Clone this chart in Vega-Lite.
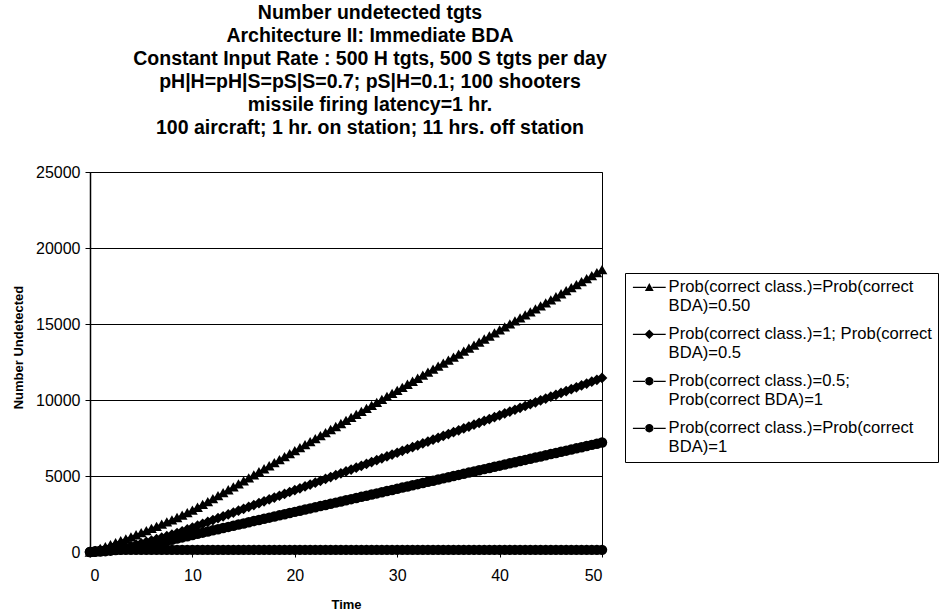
{
  "$schema": "https://vega.github.io/schema/vega-lite/v6.json",
  "autosize": {"type": "none"},
  "padding": {"left": 90, "top": 172, "right": 344, "bottom": 61},
  "width": 512,
  "height": 380,
  "background": "white",
  "config": {
    "font": "Liberation Sans",
    "view": {"stroke": "black", "strokeWidth": 1},
    "axis": {"labelColor": "black", "titleColor": "black", "domainColor": "black", "tickColor": "black"}
  },
  "title": {
    "text": ["Number undetected tgts", "Architecture II: Immediate BDA", "Constant Input Rate : 500 H tgts, 500 S tgts per day", "pH|H=pH|S=pS|S=0.7; pS|H=0.1; 100 shooters", "missile firing latency=1 hr.", "100 aircraft; 1 hr. on station; 11 hrs. off station"],
    "fontSize": 19.5,
    "fontWeight": "bold",
    "lineHeight": 23,
    "color": "black",
    "anchor": "middle",
    "dx": 24,
    "offset": 26
  },
  "data": {
    "values": [
      {"t": 0, "a": 0, "b": 0, "c": 0, "d": 0},
      {"t": 0.5, "a": 110, "b": 25, "c": 10, "d": 50},
      {"t": 1, "a": 230, "b": 60, "c": 30, "d": 90},
      {"t": 1.5, "a": 355, "b": 100, "c": 55, "d": 115},
      {"t": 2, "a": 480, "b": 150, "c": 90, "d": 130},
      {"t": 2.5, "a": 610, "b": 210, "c": 130, "d": 140},
      {"t": 3, "a": 740, "b": 270, "c": 170, "d": 140},
      {"t": 3.5, "a": 870, "b": 340, "c": 215, "d": 140},
      {"t": 4, "a": 1000, "b": 410, "c": 260, "d": 140},
      {"t": 4.5, "a": 1135, "b": 490, "c": 310, "d": 140},
      {"t": 5, "a": 1270, "b": 570, "c": 360, "d": 140},
      {"t": 5.5, "a": 1410, "b": 660, "c": 420, "d": 140},
      {"t": 6, "a": 1550, "b": 750, "c": 490, "d": 140},
      {"t": 6.5, "a": 1690, "b": 845, "c": 565, "d": 140},
      {"t": 7, "a": 1830, "b": 940, "c": 640, "d": 140},
      {"t": 7.5, "a": 1975, "b": 1040, "c": 720, "d": 140},
      {"t": 8, "a": 2120, "b": 1140, "c": 800, "d": 140},
      {"t": 8.5, "a": 2270, "b": 1250, "c": 880, "d": 140},
      {"t": 9, "a": 2420, "b": 1360, "c": 960, "d": 140},
      {"t": 9.5, "a": 2590, "b": 1487, "c": 1040, "d": 140},
      {"t": 10, "a": 2760, "b": 1610, "c": 1120, "d": 140},
      {"t": 10.5, "a": 2945, "b": 1733, "c": 1196, "d": 140},
      {"t": 11, "a": 3130, "b": 1856, "c": 1272, "d": 140},
      {"t": 11.5, "a": 3320, "b": 1979, "c": 1348, "d": 140},
      {"t": 12, "a": 3510, "b": 2102, "c": 1424, "d": 140},
      {"t": 12.5, "a": 3705, "b": 2225, "c": 1500, "d": 140},
      {"t": 13, "a": 3900, "b": 2348, "c": 1576, "d": 140},
      {"t": 13.5, "a": 4095, "b": 2471, "c": 1652, "d": 140},
      {"t": 14, "a": 4290, "b": 2594, "c": 1728, "d": 140},
      {"t": 14.5, "a": 4485, "b": 2717, "c": 1804, "d": 140},
      {"t": 15, "a": 4680, "b": 2840, "c": 1880, "d": 140},
      {"t": 15.5, "a": 4880, "b": 2963, "c": 1956, "d": 140},
      {"t": 16, "a": 5080, "b": 3086, "c": 2032, "d": 140},
      {"t": 16.5, "a": 5280, "b": 3209, "c": 2108, "d": 140},
      {"t": 17, "a": 5477, "b": 3332, "c": 2184, "d": 140},
      {"t": 17.5, "a": 5675, "b": 3455, "c": 2260, "d": 140},
      {"t": 18, "a": 5874, "b": 3578, "c": 2336, "d": 140},
      {"t": 18.5, "a": 6072, "b": 3701, "c": 2412, "d": 140},
      {"t": 19, "a": 6271, "b": 3824, "c": 2488, "d": 140},
      {"t": 19.5, "a": 6470, "b": 3947, "c": 2564, "d": 140},
      {"t": 20, "a": 6668, "b": 4070, "c": 2640, "d": 140},
      {"t": 20.5, "a": 6867, "b": 4193, "c": 2716, "d": 140},
      {"t": 21, "a": 7065, "b": 4316, "c": 2792, "d": 140},
      {"t": 21.5, "a": 7264, "b": 4439, "c": 2868, "d": 140},
      {"t": 22, "a": 7462, "b": 4562, "c": 2944, "d": 140},
      {"t": 22.5, "a": 7661, "b": 4685, "c": 3020, "d": 140},
      {"t": 23, "a": 7859, "b": 4808, "c": 3096, "d": 140},
      {"t": 23.5, "a": 8058, "b": 4931, "c": 3172, "d": 140},
      {"t": 24, "a": 8256, "b": 5054, "c": 3248, "d": 140},
      {"t": 24.5, "a": 8455, "b": 5177, "c": 3324, "d": 140},
      {"t": 25, "a": 8653, "b": 5300, "c": 3400, "d": 140},
      {"t": 25.5, "a": 8852, "b": 5423, "c": 3476, "d": 140},
      {"t": 26, "a": 9050, "b": 5546, "c": 3552, "d": 140},
      {"t": 26.5, "a": 9249, "b": 5669, "c": 3628, "d": 140},
      {"t": 27, "a": 9447, "b": 5792, "c": 3704, "d": 140},
      {"t": 27.5, "a": 9646, "b": 5915, "c": 3780, "d": 140},
      {"t": 28, "a": 9844, "b": 6038, "c": 3856, "d": 140},
      {"t": 28.5, "a": 10043, "b": 6161, "c": 3932, "d": 140},
      {"t": 29, "a": 10241, "b": 6284, "c": 4008, "d": 140},
      {"t": 29.5, "a": 10440, "b": 6407, "c": 4084, "d": 140},
      {"t": 30, "a": 10638, "b": 6530, "c": 4160, "d": 140},
      {"t": 30.5, "a": 10837, "b": 6653, "c": 4236, "d": 140},
      {"t": 31, "a": 11035, "b": 6776, "c": 4312, "d": 140},
      {"t": 31.5, "a": 11234, "b": 6899, "c": 4388, "d": 140},
      {"t": 32, "a": 11432, "b": 7022, "c": 4464, "d": 140},
      {"t": 32.5, "a": 11631, "b": 7145, "c": 4540, "d": 140},
      {"t": 33, "a": 11829, "b": 7268, "c": 4616, "d": 140},
      {"t": 33.5, "a": 12028, "b": 7391, "c": 4692, "d": 140},
      {"t": 34, "a": 12226, "b": 7514, "c": 4768, "d": 140},
      {"t": 34.5, "a": 12425, "b": 7637, "c": 4844, "d": 140},
      {"t": 35, "a": 12623, "b": 7760, "c": 4920, "d": 140},
      {"t": 35.5, "a": 12822, "b": 7883, "c": 4996, "d": 140},
      {"t": 36, "a": 13020, "b": 8006, "c": 5072, "d": 140},
      {"t": 36.5, "a": 13219, "b": 8129, "c": 5148, "d": 140},
      {"t": 37, "a": 13417, "b": 8252, "c": 5224, "d": 140},
      {"t": 37.5, "a": 13616, "b": 8375, "c": 5300, "d": 140},
      {"t": 38, "a": 13814, "b": 8498, "c": 5376, "d": 140},
      {"t": 38.5, "a": 14013, "b": 8621, "c": 5452, "d": 140},
      {"t": 39, "a": 14211, "b": 8744, "c": 5528, "d": 140},
      {"t": 39.5, "a": 14410, "b": 8867, "c": 5604, "d": 140},
      {"t": 40, "a": 14608, "b": 8990, "c": 5680, "d": 140},
      {"t": 40.5, "a": 14807, "b": 9113, "c": 5756, "d": 140},
      {"t": 41, "a": 15005, "b": 9236, "c": 5832, "d": 140},
      {"t": 41.5, "a": 15204, "b": 9359, "c": 5908, "d": 140},
      {"t": 42, "a": 15402, "b": 9482, "c": 5984, "d": 140},
      {"t": 42.5, "a": 15601, "b": 9605, "c": 6060, "d": 140},
      {"t": 43, "a": 15799, "b": 9728, "c": 6136, "d": 140},
      {"t": 43.5, "a": 15998, "b": 9851, "c": 6212, "d": 140},
      {"t": 44, "a": 16196, "b": 9974, "c": 6288, "d": 140},
      {"t": 44.5, "a": 16395, "b": 10097, "c": 6364, "d": 140},
      {"t": 45, "a": 16593, "b": 10220, "c": 6440, "d": 140},
      {"t": 45.5, "a": 16792, "b": 10343, "c": 6516, "d": 140},
      {"t": 46, "a": 16990, "b": 10466, "c": 6592, "d": 140},
      {"t": 46.5, "a": 17189, "b": 10589, "c": 6668, "d": 140},
      {"t": 47, "a": 17387, "b": 10712, "c": 6744, "d": 140},
      {"t": 47.5, "a": 17586, "b": 10835, "c": 6820, "d": 140},
      {"t": 48, "a": 17784, "b": 10958, "c": 6896, "d": 140},
      {"t": 48.5, "a": 17983, "b": 11081, "c": 6972, "d": 140},
      {"t": 49, "a": 18181, "b": 11204, "c": 7048, "d": 140},
      {"t": 49.5, "a": 18380, "b": 11327, "c": 7124, "d": 140},
      {"t": 50, "a": 18578, "b": 11450, "c": 7200, "d": 140}
    ]
  },
  "transform": [{"fold": ["a", "b", "c", "d"], "as": ["series", "value"]}],
  "encoding": {
    "x": {
      "field": "t",
      "type": "quantitative",
      "scale": {"domain": [0, 50], "nice": false},
      "axis": {
        "title": "Time",
        "values": [0, 10, 20, 30, 40, 50],
        "grid": false,
        "labelFontSize": 16,
        "labelPadding": 10,
        "tickSize": 5,
        "domainWidth": 1.5,
        "titleFontSize": 13,
        "titleFontWeight": "bold",
        "titleY": 52,
        "titleBaseline": "middle"
      }
    },
    "y": {
      "field": "value",
      "type": "quantitative",
      "scale": {"domain": [0, 25000], "nice": false},
      "axis": {
        "title": "Number Undetected",
        "values": [0, 5000, 10000, 15000, 20000, 25000],
        "format": "d",
        "grid": true,
        "gridColor": "black",
        "gridWidth": 1,
        "gridOpacity": 1,
        "labelFontSize": 16,
        "labelPadding": 5,
        "tickSize": 5,
        "domainWidth": 1.5,
        "titleFontSize": 13,
        "titleFontWeight": "bold",
        "titleX": -72,
        "titleY": 175,
        "titleAngle": 270,
        "titleAlign": "center",
        "titleBaseline": "middle"
      }
    }
  },
  "layer": [
    {
      "mark": {"type": "line", "color": "black", "strokeWidth": 1.5},
      "encoding": {"detail": {"field": "series"}}
    },
    {
      "transform": [{"filter": "datum.series == 'a'"}],
      "mark": {"type": "point", "shape": "triangle-up", "filled": true, "color": "black", "opacity": 1, "size": 115}
    },
    {
      "transform": [{"filter": "datum.series == 'b'"}],
      "mark": {"type": "point", "shape": "diamond", "filled": true, "color": "black", "opacity": 1, "size": 115}
    },
    {
      "transform": [{"filter": "datum.series == 'c' || datum.series == 'd'"}],
      "mark": {"type": "point", "shape": "circle", "filled": true, "color": "black", "opacity": 1, "size": 110}
    },
    {
      "transform": [{"filter": "datum.t == 0"}],
      "mark": {"type": "point", "filled": true, "color": "black", "opacity": 1, "size": 64, "clip": true},
      "encoding": {
        "shape": {
          "field": "series",
          "type": "nominal",
          "scale": {
            "domain": ["a", "b", "c", "d"],
            "range": [
              "M-4.1,-0.16H-0.8V0.16H-4.1ZM0.8,-0.16H4.1V0.16H0.8ZM0,-1.1L1.1,0.9L-1.1,0.9Z",
              "M-4.1,-0.16H-0.9V0.16H-4.1ZM0.9,-0.16H4.1V0.16H0.9ZM0,-1.2L1.2,0L0,1.2L-1.2,0Z",
              "M-4.1,-0.16H-0.9V0.16H-4.1ZM0.9,-0.16H4.1V0.16H0.9ZM-1.05,0A1.05,1.05,0,1,0,1.05,0A1.05,1.05,0,1,0,-1.05,0Z",
              "M-4.1,-0.16H-0.9V0.16H-4.1ZM0.9,-0.16H4.1V0.16H0.9ZM-1.05,0A1.05,1.05,0,1,0,1.05,0A1.05,1.05,0,1,0,-1.05,0Z"
            ]
          },
          "legend": {
            "title": null,
            "orient": "none",
            "legendX": 535,
            "legendY": 101,
            "padding": 6,
            "strokeColor": "black",
            "fillColor": "white",
            "symbolSize": 64,
            "symbolFillColor": "black",
            "symbolOffset": 10,
            "labelOffset": 11,
            "labelFontSize": 16.6,
            "labelColor": "black",
            "labelLimit": 300,
            "rowPadding": 11,
            "labelExpr": "datum.value == 'a' ? ['Prob(correct class.)=Prob(correct', 'BDA)=0.50'] : datum.value == 'b' ? ['Prob(correct class.)=1; Prob(correct', 'BDA)=0.5'] : datum.value == 'c' ? ['Prob(correct class.)=0.5;', 'Prob(correct BDA)=1'] : ['Prob(correct class.)=Prob(correct', 'BDA)=1']",
            "encode": {
              "labels": {
                "lineHeight": {"value": 18}
              }
            }
          }
        }
      }
    }
  ]
}
